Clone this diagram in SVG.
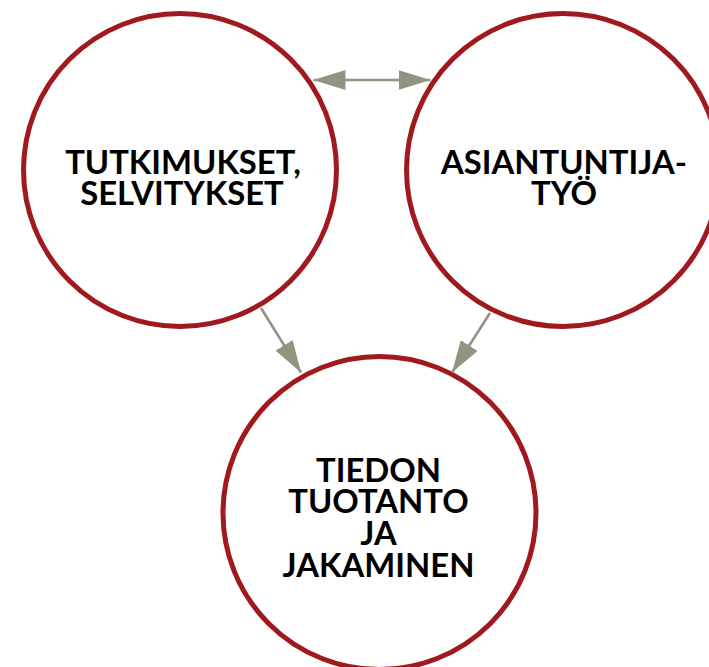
<svg xmlns="http://www.w3.org/2000/svg" width="709" height="667" viewBox="0 0 709 667">
<defs>
<style>
.node circle{fill:#fff;stroke:#a0191e;stroke-width:5}
.node text{font-family:Lato,"Open Sans","Liberation Sans",sans-serif;font-weight:700;font-size:32.8px;fill:#000;text-anchor:middle}
.conn line{stroke:#949382;stroke-width:2.6}
</style>
<marker id="ah" viewBox="0 0 32 20" refX="32" refY="10" markerWidth="32" markerHeight="20" markerUnits="userSpaceOnUse" orient="auto-start-reverse">
<path d="M0,0 L32,10 L0,20 Z" fill="#949382"/>
</marker>
</defs>
<rect width="709" height="667" fill="#fff"/>
<g id="n1" class="node">
<circle cx="180" cy="170" r="156.5"/>
<text x="183" y="173.5">TUTKIMUKSET,</text>
<text x="182" y="204.5">SELVITYKSET</text>
</g>
<g id="n2" class="node">
<circle cx="563" cy="170" r="156.5"/>
<text x="564" y="173.5">ASIANTUNTIJA-</text>
<text x="564" y="204.5">TYÖ</text>
</g>
<g id="n3" class="node">
<circle cx="379.5" cy="513" r="156.5"/>
<text x="378.5" y="481.7">TIEDON</text>
<text x="378.5" y="513">TUOTANTO</text>
<text x="378.5" y="545">JA</text>
<text x="378.5" y="576.7">JAKAMINEN</text>
</g>
<g id="connectors" class="conn">
<line x1="313.5" y1="80" x2="430.5" y2="80" marker-start="url(#ah)" marker-end="url(#ah)"/>
<line x1="261" y1="308" x2="301" y2="372.5" marker-end="url(#ah)"/>
<line x1="490" y1="313" x2="452" y2="372.5" marker-end="url(#ah)"/>
</g>
</svg>
